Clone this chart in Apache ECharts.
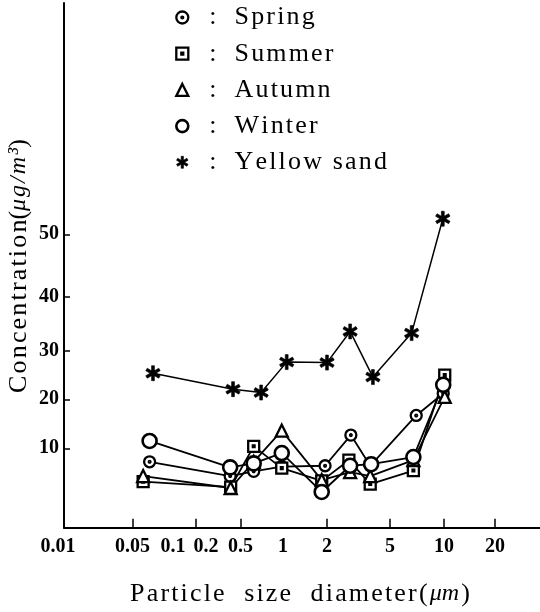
<!DOCTYPE html>
<html><head><meta charset="utf-8">
<script src="https://cdn.jsdelivr.net/npm/echarts@6/dist/echarts.min.js"></script>
<style>html,body{margin:0;padding:0;background:#fff}#c{width:540px;height:612px}</style>
</head><body><div id="c"></div>
<script>
// ---- tick labels ----
const xTickLabels = [0.01, 0.05, 0.1, 0.2, 0.5, 1, 2, 5, 10, 20];
const xTickMarks  = [0.05, 0.16, 0.5, 2, 5, 10, 20];
const yTickLabels = [10, 20, 30, 40, 50];
const seriesNames = ['Spring', 'Summer', 'Autumn', 'Winter', 'Yellow sand'];

// ---- data: particle size (µm) and concentration (µg/m3) ----
const springX = [0.067, 0.38, 0.62, 0.98, 1.94, 2.83, 3.75, 7.0, 9.9];
const springY = [8.3, 6.5, 7.1, 7.7, 7.8, 12.7, 7.8, 16.7, 21.2];
const summerX = [0.060, 0.385, 0.62, 0.98, 1.84, 2.75, 3.75, 6.75, 10.1];
const summerY = [5.8, 5.1, 10.4, 7.5, 5.9, 8.5, 5.5, 7.2, 25.0];
const autumnX = [0.060, 0.385, 0.62, 0.98, 1.84, 2.8, 3.75, 6.75, 10.1];
const autumnY = [6.5, 5.0, 8.3, 13.6, 6.0, 7.0, 6.5, 8.5, 20.5];
const winterX = [0.067, 0.38, 0.62, 0.98, 1.84, 2.8, 3.8, 6.75, 9.9];
const winterY = [11.5, 7.6, 8.1, 9.4, 4.5, 7.8, 8.0, 8.9, 23.0];
const sandX   = [0.071, 0.41, 0.70, 1.06, 2.0, 2.8, 3.9, 6.6, 9.85];
const sandY   = [25.4, 22.1, 21.4, 27.7, 27.6, 33.6, 24.6, 33.3, 52.5];

// ---- the original figure's hand-drawn (irregular) scales ----
const X_ANCHORS = [[0.01,0],[0.05,68.5],[0.1,109],[0.2,142],[0.5,176.5],[1,219],[2,263],[5,326],[10,380],[20,431]];
const Y_ANCHORS = [[0,0],[10,79.4],[20,128.4],[30,176.7],[40,231],[50,293.4]];
const X_MAX = 476, Y_MAX = 524.7;

function interp(anchors, v, f) {
  let i = 0;
  while (i < anchors.length - 2 && v > anchors[i + 1][0]) i++;
  const a = anchors[i], b = anchors[i + 1];
  const t = (f(v) - f(a[0])) / (f(b[0]) - f(a[0]));
  return a[1] + t * (b[1] - a[1]);
}
const xs = v => interp(X_ANCHORS, v, Math.log);
const ys = v => interp(Y_ANCHORS, v, z => z);
function nearestLabel(list, scale, u) {
  let best = list[0], d = Infinity;
  list.forEach(v => { const dd = Math.abs(scale(v) - u); if (dd < d) { d = dd; best = v; } });
  return best;
}

// ---- symbols ----
const SPRING_SYM = 'path://M0,-5A5,5,0,1,1,0,5A5,5,0,1,1,0,-5ZM0,-0.8A0.8,0.8,0,1,1,0,0.8A0.8,0.8,0,1,1,0,-0.8Z';
const SUMMER_SYM = 'path://M-5,-5L5,-5L5,5L-5,5ZM-0.8,-0.8L0.8,-0.8L0.8,0.8L-0.8,0.8Z';
const STAR_SYM = 'path://M-1.9,-10L1.9,-10L1.9,10L-1.9,10ZM7.71,6.65L-9.61,-3.35L-7.71,-6.65L9.61,3.35ZM-9.61,3.35L7.71,-6.65L9.61,-3.35L-7.71,6.65Z';

const FONT = "'Liberation Serif','Times New Roman',serif";
const sp = s => s.split('').join('\u200A');

const hollow = {color: '#fff', borderColor: '#000', borderWidth: 2.3};
function mk(name, X, Y, symbol, size, itemStyle, lw) {
  return {
    type: 'line', name, symbol, symbolSize: size, symbolKeepAspect: true,
    showAllSymbol: true, animation: false, silent: true,
    data: X.map((x, i) => [xs(x), ys(Y[i])]),
    itemStyle, lineStyle: {color: '#000', width: lw},
    emphasis: {disabled: true}
  };
}
const series = [
  mk('Spring', springX, springY, SPRING_SYM, 11, hollow, 1.8),
  mk('Summer', summerX, summerY, SUMMER_SYM, 11, hollow, 1.8),
  mk('Autumn', autumnX, autumnY, 'triangle', 12, hollow, 1.8),
  mk('Winter', winterX, winterY, 'circle', 14, {color: '#fff', borderColor: '#000', borderWidth: 2.6}, 1.8),
  mk('Yellow sand', sandX, sandY, STAR_SYM, 15, {color: '#000', borderColor: '#000', borderWidth: 0.6}, 1.5)
];
const legendIcons = [SPRING_SYM, SUMMER_SYM, 'triangle', 'circle', STAR_SYM];

const chart = echarts.init(document.getElementById('c'), null, {renderer: 'canvas'});
chart.setOption({
  backgroundColor: '#fff',
  animation: false,
  grid: {left: 64, right: 0, top: 3, bottom: 84.3, outerBoundsMode: 'none', containLabel: false},
  legend: {
    orient: 'vertical', left: 175, top: 4.5, padding: 0,
    itemWidth: 12, itemHeight: 12, itemGap: 10.2, selectedMode: false,
    data: seriesNames.map((n, i) => ({
      name: n, icon: legendIcons[i],
      itemStyle: series[i].itemStyle
    })),
    formatter: n => '{c|:}{t|' + sp(n) + '}',
    textStyle: {
      fontFamily: FONT, fontSize: 26, color: '#000', lineHeight: 26,
      rich: {
        c: {fontFamily: FONT, fontSize: 26, color: '#000', padding: [0, 18, 0, 16]},
        t: {fontFamily: FONT, fontSize: 26, color: '#000'}
      }
    }
  },
  xAxis: {
    type: 'value', min: 0, max: X_MAX,
    axisLine: {show: true, onZero: false, lineStyle: {color: '#000', width: 2}},
    axisTick: {show: true, inside: true, length: 9, lineStyle: {color: '#000', width: 1.5},
               customValues: xTickMarks.map(xs)},
    axisLabel: {
      customValues: xTickLabels.map(xs), margin: 9,
      fontFamily: FONT, fontSize: 20, fontWeight: 'bold', color: '#000',
      formatter: u => {
        const v = nearestLabel(xTickLabels, xs, u);
        return v === 0.01 ? '{f|0.01}' : String(v);
      },
      rich: {f: {fontFamily: FONT, fontSize: 20, fontWeight: 'bold', color: '#000', padding: [0, 12, 0, 0]}}
    },
    splitLine: {show: false}
  },
  yAxis: {
    type: 'value', min: 0, max: Y_MAX,
    axisLine: {show: true, onZero: false, lineStyle: {color: '#000', width: 2}},
    axisTick: {show: true, inside: true, length: 6, lineStyle: {color: '#000', width: 1.5},
               customValues: yTickLabels.map(ys)},
    axisLabel: {
      customValues: yTickLabels.map(ys), margin: 5,
      fontFamily: FONT, fontSize: 20, fontWeight: 'bold', color: '#000',
      formatter: u => String(nearestLabel(yTickLabels, ys, u))
    },
    splitLine: {show: false}
  },
  graphic: [
    {
      type: 'text', x: 300, y: 594, silent: true,
      style: {
        text: '{a|' + sp('Particle') + '   ' + sp('size') + '   ' + sp('diameter') + '\u200A(\u200A}{b|μm}{a|\u200A)}',
        align: 'center', verticalAlign: 'middle',
        rich: {
          a: {fontFamily: FONT, fontSize: 26, fill: '#000'},
          b: {fontFamily: FONT, fontSize: 24, fontStyle: 'italic', fill: '#000'}
        }
      }
    },
    {
      type: 'text', x: 19, y: 266, rotation: Math.PI / 2, silent: true,
      style: {
        text: '{a|' + sp('Concentration') + '(}{b|' + sp('μg/m³') + '}{a|)}',
        align: 'center', verticalAlign: 'middle',
        rich: {
          a: {fontFamily: FONT, fontSize: 26, fill: '#000'},
          b: {fontFamily: FONT, fontSize: 24, fontStyle: 'italic', fill: '#000'}
        }
      }
    }
  ],
  series
});
</script></body></html>
